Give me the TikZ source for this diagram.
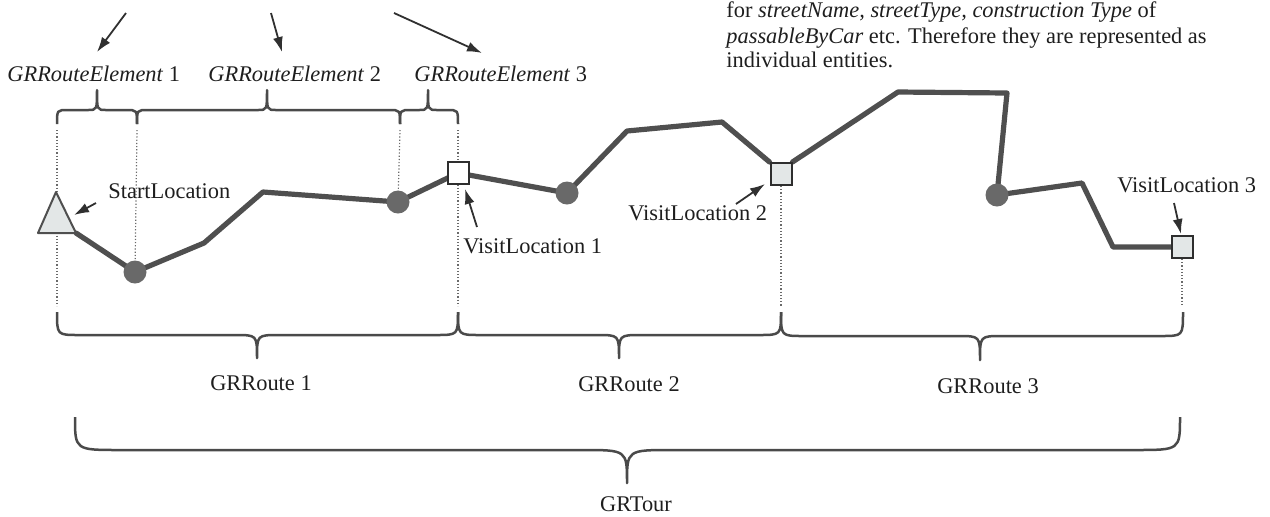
\documentclass[tikz,border=0pt]{standalone}
\usepackage{fontspec}
\setmainfont{Liberation Serif}
\usetikzlibrary{arrows.meta,backgrounds}
\definecolor{routegray}{HTML}{4F4F4F}
\definecolor{bracegray}{HTML}{4A4A4A}
\definecolor{dotgray}{HTML}{6A6A6A}
\definecolor{boxfill}{HTML}{E3E7E7}
\definecolor{boxline}{HTML}{2E2E2E}
\definecolor{arrowgray}{HTML}{303030}
\definecolor{textgray}{HTML}{1E1E1E}
\tikzset{
  lbl/.style={inner sep=0pt, font=\fontsize{11.2}{13}\selectfont, text=textgray},
  routeline/.style={draw=routegray, line width=2.6pt, line join=round, line cap=round},
  bracestyle/.style={draw=bracegray, line width=1.25pt, line join=round},
  dotline/.style={draw=dotgray, line width=0.6pt, dash pattern=on 0.6pt off 1pt},
  arr/.style={draw=arrowgray, line width=0.9pt, -{Latex[length=7.5pt,width=5pt]}},
  stopbox/.style={draw=boxline, line width=1pt, fill=boxfill, minimum width=10.5pt, minimum height=11pt, inner sep=0pt},
  waypt/.style={circle, fill=routegray!85!white, minimum size=11.5pt, inner sep=0pt},
}
% brace from x=#1 to x=#2 (#1<#2), tip at x=#3; ends at y=#4, flat at y=#5, tip at y=#6;
% end curve width #7, tip curve width #8
\newcommand{\drawbrace}[8]{%
  \draw[bracestyle] (#1,#4) .. controls (#1,#5) .. (#1+#7,#5) -- (#3-#8,#5)
    .. controls (#3,#5) .. (#3,#6) .. controls (#3,#5) .. (#3+#8,#5)
    -- (#2-#7,#5) .. controls (#2,#5) .. (#2,#4);}
\begin{document}
\begin{tikzpicture}[x=0.5pt,y=-0.5pt]
\useasboundingbox (0,0) rectangle (1270,516);

% right paragraph (partially visible)
\node[lbl, anchor=base west] (par1) at (726,17) {for \textit{streetName, streetType, construction Type} of};
\node[lbl, anchor=base west] (par2) at (726,43) {\textit{passableByCar} etc. Therefore they are represented as};
\node[lbl, anchor=base west] (par3) at (726,67) {individual entities.};

% route element labels
\node[lbl, anchor=base west] (gre1) at (7,81) {\textit{GRRouteElement} 1};
\node[lbl, anchor=base west] (gre2) at (208,81) {\textit{GRRouteElement} 2};
\node[lbl, anchor=base west] (gre3) at (414,81) {\textit{GRRouteElement} 3};

% top arrows
\coordinate (a1s) at (126,13); \coordinate (a1e) at (97,52);
\coordinate (a2s) at (271,13); \coordinate (a2e) at (282,52);
\coordinate (a3s) at (394,13); \coordinate (a3e) at (482,53);
\draw[arr] (a1s) -- (a1e);
\draw[arr] (a2s) -- (a2e);
\draw[arr] (a3s) -- (a3e);

% top braces
\drawbrace{57}{137}{97}{124}{110}{90}{11}{9}
\drawbrace{137}{400}{267}{124}{110}{90}{11}{9}
\drawbrace{400}{458}{428}{124}{110}{90}{11}{9}

% route nodes
\coordinate (t1) at (56,192);
\coordinate (t2) at (38,233);
\coordinate (t3) at (76,233);
\filldraw[fill=boxfill, draw=routegray, line width=1pt, line join=round] (t1) -- (t2) -- (t3) -- cycle;

\node[waypt] (c1) at (135,272) {};
\node[waypt] (c2) at (398,202) {};
\node[waypt] (c3) at (567,193) {};
\node[waypt] (c4) at (997,195) {};
\node[stopbox, fill=white] (s1) at (458,173) {};
\node[stopbox] (s2) at (781,174) {};
\node[stopbox] (s3) at (1182,247) {};

\coordinate (p1) at (204,243);
\coordinate (p2) at (263,192);
\coordinate (p3) at (627,131);
\coordinate (p4) at (722,122);
\coordinate (p5) at (898,92);
\coordinate (p6) at (1007,93);
\coordinate (p7) at (1082,183);
\coordinate (p8) at (1113,247);

% dotted guide lines
\coordinate (d1a) at (57,130); \coordinate (d1b) at (57,306);
\coordinate (d2a) at (137,130);
\coordinate (d3a) at (400,130);
\coordinate (d4a) at (458,130); \coordinate (d4b) at (458,306);
\coordinate (d5b) at (781,306);
\coordinate (d6b) at (1182,306);

\begin{scope}[on background layer]
  \draw[routeline] (t3) -- (c1.center) -- (p1) -- (p2) -- (c2.center) -- (s1.center)
     -- (c3.center) -- (p3) -- (p4) -- (s2.north west);
  \draw[routeline] (s2.north east) -- (p5) -- (p6) -- (c4.center) -- (p7) -- (p8) -- (s3.center);
  \draw[dotline] (d1a) -- (d1b);
  \draw[dotline] (d2a) -- (c1.center);
  \draw[dotline] (d3a) -- (c2.center);
  \draw[dotline] (d4a) -- (d4b);
  \draw[dotline] (s2.south) -- (d5b);
  \draw[dotline] (s3.south) -- (d6b);
\end{scope}

% location labels
\node[lbl, anchor=base west] (sl) at (108,198) {StartLocation};
\coordinate (sla) at (96,203); \coordinate (slb) at (74,215);
\draw[arr] (sla) -- (slb);

\node[lbl, anchor=base west] (vl1) at (463,253) {VisitLocation 1};
\coordinate (v1a) at (477,227); \coordinate (v1b) at (465,189);
\draw[arr] (v1a) -- (v1b);

\node[lbl, anchor=base west] (vl2) at (628,220) {VisitLocation 2};
\coordinate (v2a) at (736,204); \coordinate (v2b) at (765,184);
\draw[arr] (v2a) -- (v2b);

\node[lbl, anchor=base west] (vl3) at (1117,192) {VisitLocation 3};
\coordinate (v3a) at (1174,203); \coordinate (v3b) at (1181,234);
\draw[arr] (v3a) -- (v3b);

% bottom braces
\drawbrace{57}{458}{257}{312}{335}{358}{22}{22}
\drawbrace{458}{781}{619}{312}{335}{358}{22}{22}
\drawbrace{781}{1183}{980}{312}{336}{360}{22}{22}
\drawbrace{75}{1180}{627}{417}{450}{483}{45}{45}

\node[lbl, anchor=base] (r1) at (261,390) {GRRoute 1};
\node[lbl, anchor=base] (r2) at (629,391) {GRRoute 2};
\node[lbl, anchor=base] (r3) at (988,393) {GRRoute 3};
\node[lbl, anchor=base] (tour) at (636,511) {GRTour};
\end{tikzpicture}
\end{document}
